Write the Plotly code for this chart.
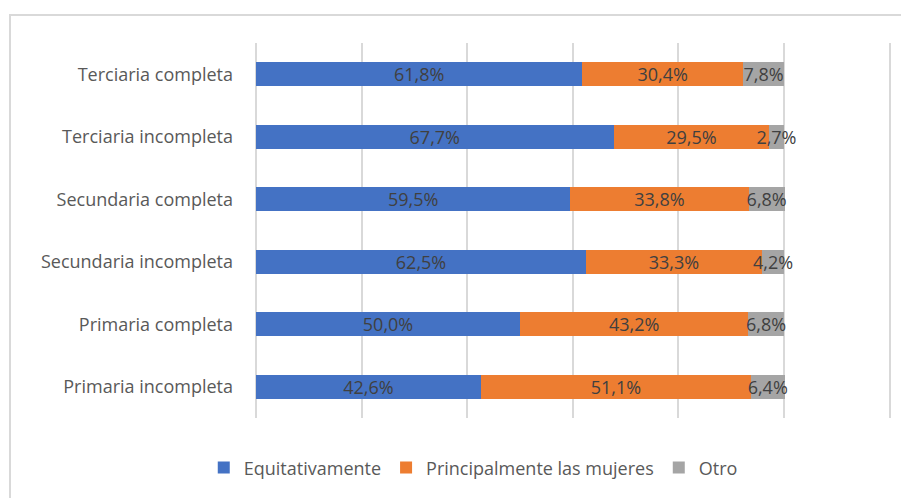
import plotly.graph_objects as go

categorias = ["Primaria incompleta", "Primaria completa", "Secundaria incompleta",
              "Secundaria completa", "Terciaria incompleta", "Terciaria completa"]
equitativamente = [42.6, 50.0, 62.5, 59.5, 67.7, 61.8]
mujeres = [51.1, 43.2, 33.3, 33.8, 29.5, 30.4]
otro = [6.4, 6.8, 4.2, 6.8, 2.7, 7.8]

series = [
    ("Equitativamente", equitativamente, "#4472C4"),
    ("Principalmente las mujeres", mujeres, "#ED7D31"),
    ("Otro", otro, "#A5A5A5"),
]

fig = go.Figure()
for nombre, vals, color in series:
    fig.add_trace(go.Bar(
        y=categorias, x=vals, name=nombre, orientation="h",
        marker=dict(color=color, line=dict(width=0)),
        text=[f"{v:.1f}%".replace(".", ",") for v in vals],
        textposition="inside", insidetextanchor="middle", textangle=0,
        constraintext="none", cliponaxis=False,
        textfont=dict(family="Open Sans", size=18, color="#404040"),
        hoverinfo="skip",
    ))

# la pagina tiene 8px de margen en el body, se compensa aqui
fig.update_layout(
    barmode="stack", bargap=0.615,
    width=901, height=490,
    margin=dict(l=248, r=14, t=35, b=80),
    plot_bgcolor="white", paper_bgcolor="white",
    font=dict(family="Open Sans", size=18, color="#595959"),
    legend=dict(orientation="h", x=0.34, xanchor="center", y=-0.133, yanchor="middle",
                font=dict(size=18, color="#595959"), traceorder="normal"),
    shapes=[dict(type="rect", xref="paper", yref="paper",
                 x0=-0.385, x1=1.05, y0=-0.25, y1=1.075,
                 line=dict(color="#D9D9D9", width=2), layer="below")],
)
fig.update_xaxes(range=[0, 121], tickvals=[0, 20, 40, 60, 80, 100, 120], showticklabels=False,
                 showgrid=True, gridcolor="#D9D9D9", gridwidth=1.5,
                 zeroline=True, zerolinecolor="#D9D9D9", zerolinewidth=1.5)
fig.update_yaxes(showgrid=False, ticklabelstandoff=22, ticks="")

fig.write_html("out.html")
